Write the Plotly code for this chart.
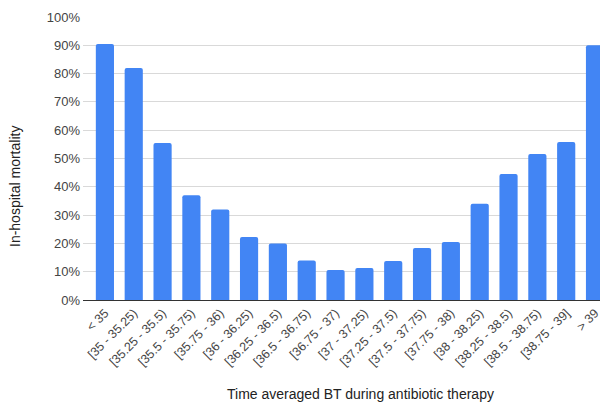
import plotly.graph_objects as go

categories = ["< 35", "[35 - 35.25)", "[35.25 - 35.5)", "[35.5 - 35.75)", "[35.75 - 36)",
              "[36 - 36.25)", "[36.25 - 36.5)", "[36.5 - 36.75)", "[36.75 - 37)",
              "[37 - 37.25)", "[37.25 - 37.5)", "[37.5 - 37.75)", "[37.75 - 38)",
              "[38 - 38.25)", "[38.25 - 38.5)", "[38.5 - 38.75)", "[38.75 - 39]", "> 39"]
mortality = [0.905, 0.82, 0.555, 0.37, 0.32, 0.223, 0.20, 0.14, 0.106, 0.113,
             0.138, 0.184, 0.205, 0.34, 0.445, 0.516, 0.558, 0.90]
y_ticks = [0, 0.1, 0.2, 0.3, 0.4, 0.5, 0.6, 0.7, 0.8, 0.9, 1.0]

fig = go.Figure(go.Bar(x=categories, y=mortality,
                       marker=dict(color="#4285F4", line=dict(width=0), cornerradius=2),
                       width=0.63))

OFF = 8  # page body margin
W, H = 608 - OFF, 403 - OFF
L, R, T, B = 83 - OFF, 0, 17 - OFF, 103
plot_w = W - L - R
plot_h = H - T - B

def px_x(x):
    return (x - OFF - L) / plot_w

def px_y(y):
    return (H - (y - OFF) - B) / plot_h

fig.update_layout(
    width=W, height=H,
    margin=dict(l=L, r=R, t=T, b=B),
    plot_bgcolor="white", paper_bgcolor="white",
    font=dict(family="Liberation Sans, Arial, sans-serif", color="#444", size=12),
    showlegend=False,
    xaxis=dict(tickangle=-45, showgrid=False, ticks="", showline=True, linecolor="#333",
               linewidth=1, automargin=False, range=[-0.76, 17.45],
               tickfont=dict(size=12.5, color="#444")),
    yaxis=dict(range=[0, 1.0], tickvals=y_ticks, tickformat=".0%", showgrid=True,
               gridcolor="#d9d9d9", zeroline=False, ticks="", automargin=False,
               ticklabelstandoff=2, tickfont=dict(size=13, color="#444")),
    annotations=[
        dict(text="In-hospital mortality", x=px_x(15), y=px_y(187),
             xref="paper", yref="paper", xanchor="center", yanchor="middle",
             showarrow=False, textangle=-90, font=dict(size=14, color="#222")),
        dict(text="Time averaged BT during antibiotic therapy", x=px_x(360),
             y=px_y(394), xref="paper", yref="paper", xanchor="center",
             yanchor="middle", showarrow=False, font=dict(size=14, color="#222")),
    ],
)

fig.write_html("out.html")
